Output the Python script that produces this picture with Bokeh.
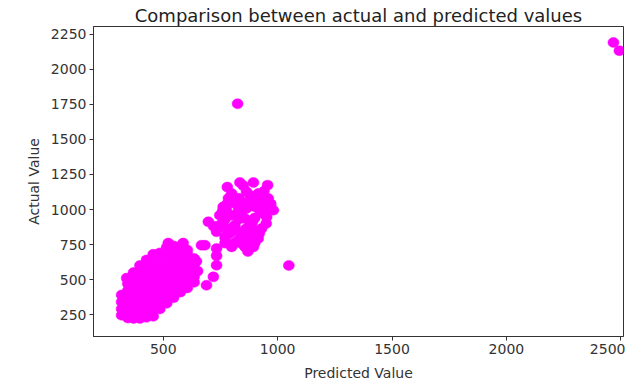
from bokeh.plotting import figure
from bokeh.models import Range1d, FixedTicker
from bokeh.embed import file_html
from bokeh.resources import INLINE

# Main cluster (predicted, actual)
pred_a = [318, 318, 318, 318,
          345, 345, 345, 345, 345, 345, 340,
          370, 370, 370, 370, 370, 370, 370, 370,
          398, 398, 398, 398, 398, 398, 398, 398, 398,
          427, 427, 427, 427, 427, 427, 427, 427, 427, 427,
          456, 456, 456, 456, 456, 456, 456, 456, 456, 456,
          485, 485, 485, 485, 485, 485, 485, 485, 485,
          515, 515, 515, 515, 515, 515, 515, 515, 515, 522,
          545, 545, 545, 545, 545, 545, 545, 545, 545,
          575, 575, 575, 575, 575, 575, 575, 580, 587,
          605, 605, 605, 605, 605, 605, 605,
          635, 635, 635, 635, 635, 650, 645]
act_a = [245, 290, 340, 390,
         225, 270, 320, 370, 420, 470, 510,
         222, 265, 310, 360, 410, 460, 510, 550,
         222, 262, 305, 355, 400, 450, 500, 550, 600,
         230, 270, 320, 365, 415, 460, 510, 560, 610, 640,
         237, 280, 330, 380, 430, 475, 525, 575, 620, 680,
         290, 335, 385, 430, 480, 530, 580, 625, 690,
         330, 380, 435, 485, 535, 580, 630, 680, 730, 760,
         370, 420, 470, 520, 570, 620, 665, 715, 740,
         410, 450, 500, 550, 600, 650, 700, 745, 760,
         440, 480, 530, 580, 630, 680, 710,
         480, 520, 560, 610, 650, 560, 630]

# Connecting chain and upper cluster
pred_b = [689, 719, 733, 733, 733, 682, 667,
          835, 894, 956, 799, 864, 915, 959, 899, 762, 813, 864, 922, 981, 952,
          747, 799, 857, 697, 747, 813, 879, 930, 733, 791, 857, 915, 828, 799,
          857, 894, 775, 840, 900, 880, 830, 770, 870, 820, 900, 940, 780,
          785, 850, 930, 940, 880, 780, 850, 900, 960, 830, 770, 830, 890, 950,
          760, 800, 860, 920, 780, 840, 880, 810, 770, 900, 870, 840, 760, 720,
          940, 970]
act_b = [459, 519, 602, 669, 721, 745, 745,
         1193, 1193, 1174, 1114, 1126, 1114, 1079, 1066, 1019, 1043, 1007, 995, 995, 947,
         959, 959, 936, 912, 888, 888, 888, 864, 841, 829, 829, 793, 781, 733,
         733, 733, 1000, 970, 940, 1040, 1080, 800, 770, 850, 850, 1030, 1160,
         1080, 1170, 1060, 1130, 1100, 1040, 1050, 1020, 1010, 1000, 930, 930, 910, 900,
         900, 870, 860, 830, 850, 800, 800, 760, 760, 760, 700, 760, 990, 880,
         970, 1040]

# Outliers
pred_c = [825, 1049, 2468, 2494]
act_c = [1755, 600, 2193, 2134]

predicted = pred_a + pred_b + pred_c
actual = act_a + act_b + act_c

x_ticks = [500, 1000, 1500, 2000, 2500]
y_ticks = [250, 500, 750, 1000, 1250, 1500, 1750, 2000, 2250]

FONT = "DejaVu Sans"

p = figure(frame_width=530, frame_height=310,
           min_border_left=93, min_border_right=2, min_border_top=26, min_border_bottom=45,
           x_range=Range1d(195, 2512), y_range=Range1d(93, 2307),
           output_backend="svg", toolbar_location=None,
           title="Comparison between actual and predicted values")

p.ellipse(x=predicted, y=actual, width=11, height=10,
          width_units="screen", height_units="screen",
          fill_color="#ff00ff", line_color="#ff00ff", line_width=0.5)

p.title.align = "center"
p.title.text_font = FONT
p.title.text_font_size = "18px"
p.title.text_font_style = "normal"
p.title.text_color = "#222222"
p.title.standoff = 2

p.xgrid.visible = False
p.ygrid.visible = False
p.outline_line_color = "#333333"
p.outline_line_width = 1

for ax in (p.xaxis[0], p.yaxis[0]):
    ax.axis_line_color = "#333333"
    ax.major_tick_line_color = "#333333"
    ax.major_tick_out = 4
    ax.major_tick_in = 0
    ax.minor_tick_line_color = None
    ax.major_label_text_font = FONT
    ax.major_label_text_font_size = "14px"
    ax.major_label_text_color = "#333333"
    ax.axis_label_text_font = FONT
    ax.axis_label_text_font_size = "14px"
    ax.axis_label_text_font_style = "normal"
    ax.axis_label_text_color = "#333333"
    ax.major_label_standoff = 3

p.xaxis.ticker = FixedTicker(ticks=x_ticks)
p.yaxis.ticker = FixedTicker(ticks=y_ticks)
p.xaxis.axis_label = "Predicted Value"
p.yaxis.axis_label = "Actual Value"
p.xaxis.axis_label_standoff = 8
p.yaxis.axis_label_standoff = 6

open("out.html", "w").write(file_html(p, INLINE))
